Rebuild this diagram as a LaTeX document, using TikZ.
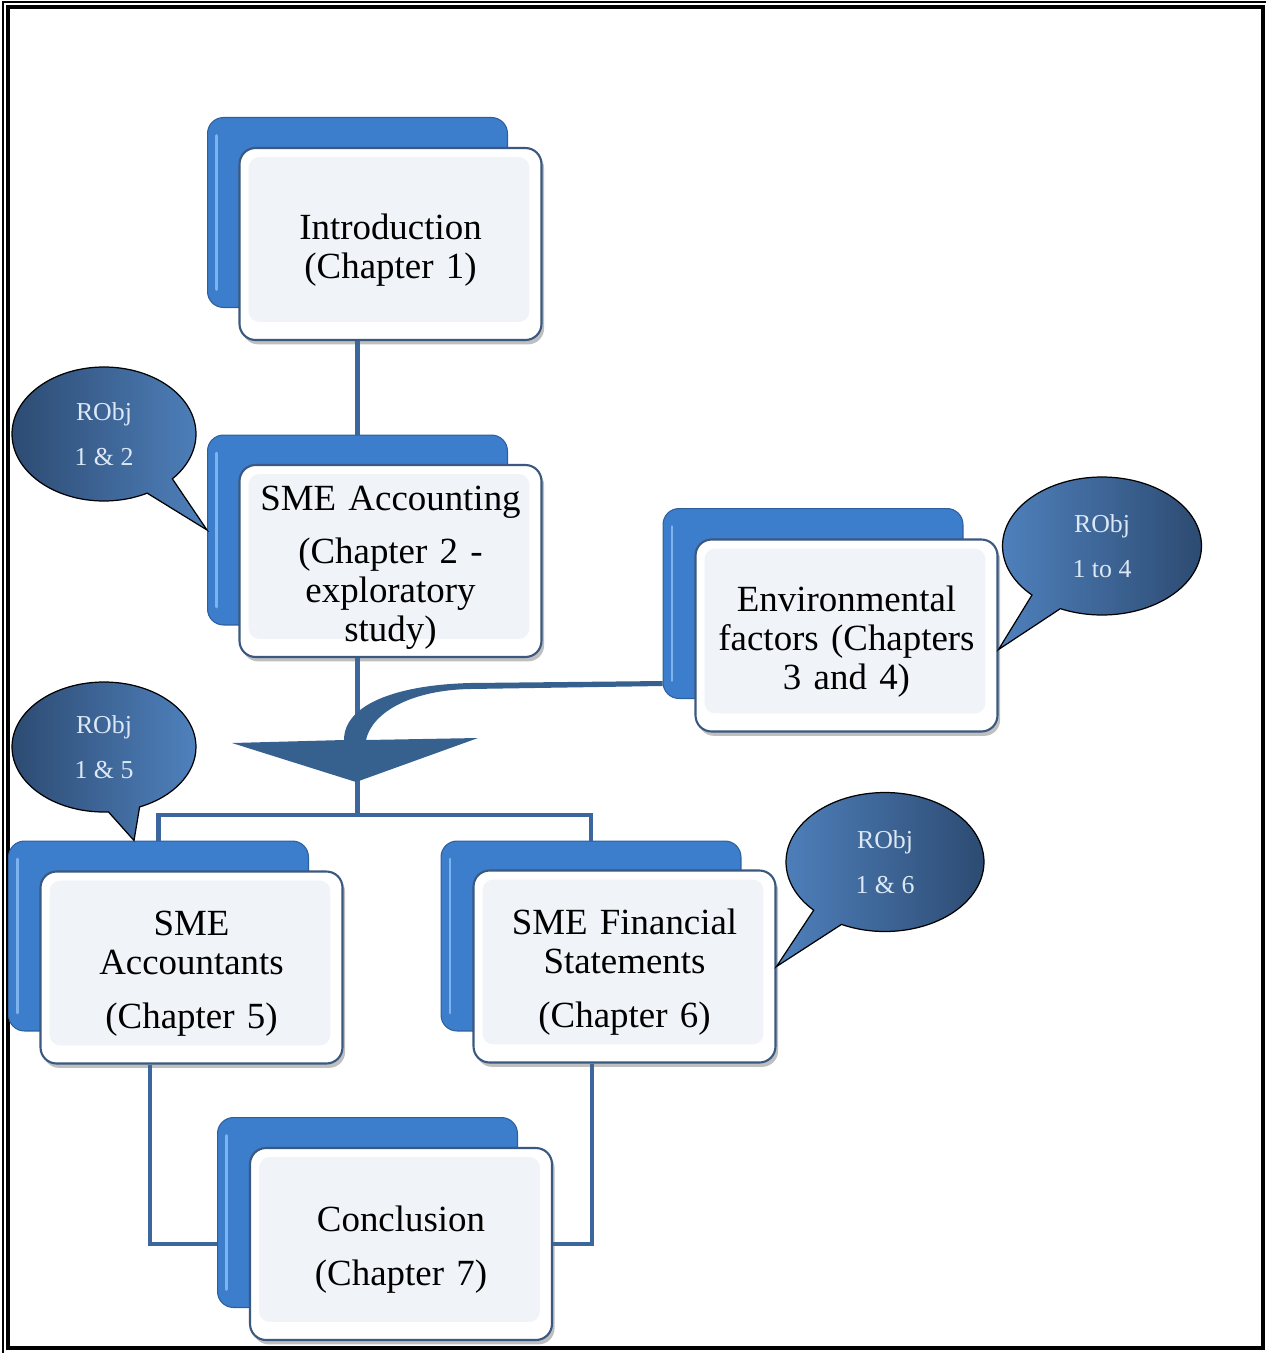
\documentclass[tikz,border=0pt]{standalone}
\usepackage{fontspec}
\setmainfont{Liberation Serif}
\usepackage{tikz}
\usepackage{xcolor}
\usetikzlibrary{shapes.geometric, shapes.callouts, positioning, calc, shadows}

\definecolor{boxblue}{RGB}{60,125,204}
\definecolor{boxedge}{RGB}{45,95,158}
\definecolor{boxlight}{RGB}{125,180,240}
\definecolor{frontedge}{RGB}{58,88,128}
\definecolor{innerfill}{RGB}{240,243,248}
\definecolor{linkblue}{RGB}{60,103,156}
\definecolor{arrowblue}{RGB}{54,97,143}
\definecolor{bubbledark}{RGB}{45,75,114}
\definecolor{bubblelight}{RGB}{79,129,189}
\definecolor{bubbletext}{RGB}{220,232,245}

\tikzset{
  backbox/.style={draw=boxedge, fill=boxblue, line width=0.6pt, rounded corners=0.32cm,
    minimum width=6cm, minimum height=3.8cm, inner sep=0pt,
    path picture={\draw[boxlight, line width=1.6pt, line cap=round]
      ($(path picture bounding box.north west)+(9,18)$) --
      ($(path picture bounding box.south west)+(9,-18)$);}},
  frontbox/.style={draw=frontedge, fill=white, line width=1.2pt, rounded corners=0.32cm,
    minimum width=6.04cm, minimum height=3.84cm, inner sep=0pt,
    text width=5.9cm, align=center, font=\fontsize{21}{22.2}\selectfont,
    execute at begin node={\rule{0pt}{0.75cm}},
    drop shadow={shadow xshift=1.5pt, shadow yshift=-2.5pt, fill=black, opacity=0.25},
    path picture={\fill[innerfill, rounded corners=0.22cm]
      ($(path picture bounding box.north west)+(9,9)$) rectangle
      ($(path picture bounding box.south east)+(-12,-18)$);}},
  robj/.style={ellipse callout, draw=black, line width=0.7pt, callout pointer arc=20,
    inner sep=0pt, align=center, text=bubbletext, font=\fontsize{14.7}{25.6}\selectfont},
  link/.style={draw=linkblue, line width=0.09cm},
}

\begin{document}
\begin{tikzpicture}[x=0.02cm, y=-0.02cm]
\useasboundingbox (0,0) rectangle (1266,1353);

% page frame
\draw[line width=0.03cm] (3,1353) -- (3,2) -- (1266,2);
\draw[line width=0.08cm] (8,7) rectangle (1263,1347.5);

% chapter boxes
\node[backbox] (introb) at (357.5,212.5) {};
\node[frontbox] (intro) at ($(introb)+(33,31.5)$) {Introduction\\(Chapter 1)};

\node[backbox] (accb) at (357.5,530) {};
\node[frontbox] (acc) at ($(accb)+(33,31)$) {SME Accounting\\[0.28cm](Chapter 2 -\\exploratory\\study)};

\node[backbox] (envb) at (813,603.5) {};
\node[frontbox] (env) at ($(envb)+(33.5,32)$) {Environmental\\factors (Chapters\\3 and 4)};

\node[backbox] (scab) at (158.5,936) {};
\node[frontbox] (sca) at ($(scab)+(33,31.5)$) {SME\\Accountants\\[0.3cm](Chapter 5)};

\node[backbox] (fsb) at (591,936) {};
\node[frontbox] (fs) at ($(fsb)+(33.5,30.5)$) {SME Financial\\Statements\\[0.3cm](Chapter 6)};

\node[backbox] (concb) at (367.5,1212.5) {};
\node[frontbox] (conc) at ($(concb)+(33.5,31.5)$) {Conclusion\\[0.3cm](Chapter 7)};

% connectors
\coordinate (split) at (accb.south |- 0,815);
\draw[link] (introb.south |- intro.south) -- (accb.north);
\draw[link] (accb.south |- acc.south) -- (split);
\draw[link] (scab.north) |- (split) -| (fsb.north);
\draw[link] (sca.south -| 150,0) |- (concb.west |- conc.west);
\draw[link] (fs.south -| 592,0) |- (conc.east);

% curved arrow from the environmental factors
\fill[arrowblue] ($(envb.south west)+(0,-18)$) -- (470,683)
  .. controls (395,685) and (344,705) .. (344,740) -- (232,743) -- (356,782)
  -- (478,738) -- (366,740) .. controls (372,712) and (412,690) .. (470,689)
  -- ($(envb.south west)+(0,-13)$) -- cycle;

% research objective bubbles
\node[robj, minimum width=3.68cm, minimum height=2.68cm,
  left color=bubbledark, right color=bubblelight,
  callout absolute pointer={(accb.west)}] (ro12) at (104,434) {RObj\\1 \& 2};
\node[robj, minimum width=3.98cm, minimum height=2.76cm,
  left color=bubblelight, right color=bubbledark,
  callout absolute pointer={($(env.east)+(0,14)$)}] (ro14) at (1102,546) {RObj\\1 to 4};
\node[robj, minimum width=3.68cm, minimum height=2.6cm,
  left color=bubbledark, right color=bubblelight,
  callout absolute pointer={($(scab.north west)+(126,0)$)}] (ro15) at (104,747) {RObj\\1 \& 5};
\node[robj, minimum width=3.96cm, minimum height=2.78cm,
  left color=bubblelight, right color=bubbledark,
  callout absolute pointer={(fs.east)}] (ro16) at (885,862) {RObj\\1 \& 6};
\end{tikzpicture}
\end{document}
